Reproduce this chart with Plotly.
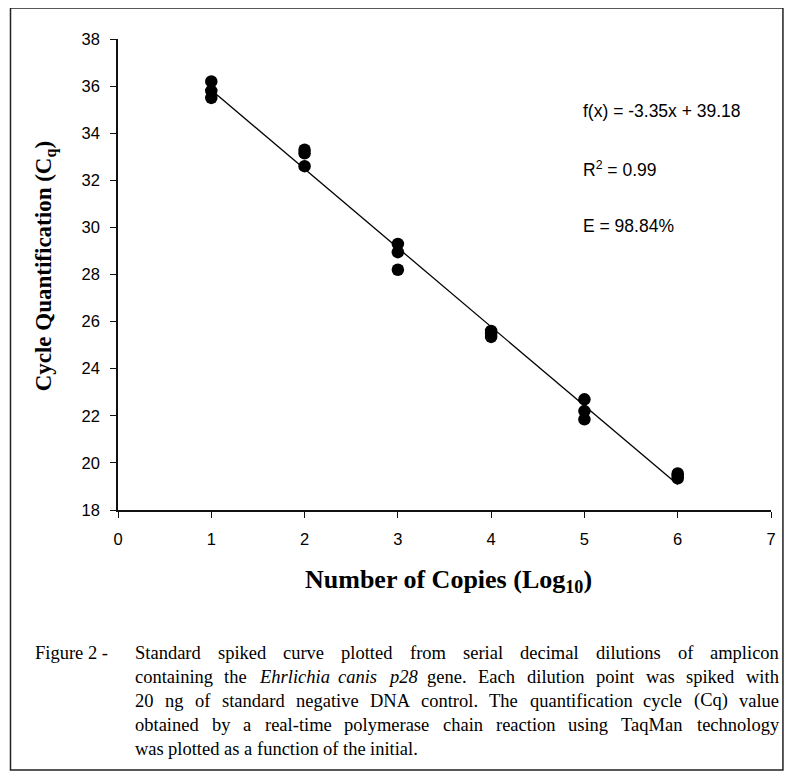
import plotly.graph_objects as go

# ---------------- data ----------------
log_copies = [1, 1, 1, 2, 2, 2, 3, 3, 3, 4, 4, 4, 5, 5, 5, 6, 6, 6]
cq_values = [36.2, 35.8, 35.5, 33.3, 33.15, 32.6, 29.3, 28.95, 28.2,
             25.6, 25.5, 25.35, 22.7, 22.2, 21.85, 19.55, 19.45, 19.35]
slope = -3.35
intercept = 39.18
fit_x = [1, 6]
x_ticks = [0, 1, 2, 3, 4, 5, 6, 7]
y_ticks = [18, 20, 22, 24, 26, 28, 30, 32, 34, 36, 38]
eq_lines = ["f(x) = -3.35x + 39.18", "R<sup>2</sup> = 0.99", "E = 98.84%"]
caption_lines = [
    "Standard spiked curve plotted from serial decimal dilutions of amplicon",
    "containing the <i>Ehrlichia</i> <i>canis</i> <i>p28</i> gene. Each dilution point was spiked with",
    "20 ng of standard negative DNA control. The quantification cycle (Cq) value",
    "obtained by a real-time polymerase chain reaction using TaqMan technology",
    "was plotted as a function of the initial.",
]

# ---------------- layout geometry (reference-window pixels) ----------------
OFF = 8  # page body margin: figure is drawn at (8, 8) in the window
W, H = 780, 766
L, R, T, B = 118 - OFF, 774 - OFF, 39 - OFF, 510 - OFF
PW, PH = R - L, B - T

SANS = "Liberation Sans, Arial"


def px(x):
    return (x - OFF - L) / PW


def py(y):
    return (B - (y - OFF)) / PH


fig = go.Figure()
fig.add_trace(go.Scatter(
    x=fit_x, y=[slope * v + intercept for v in fit_x], mode="lines",
    line=dict(color="black", width=1.3), showlegend=False, hoverinfo="skip"))
fig.add_trace(go.Scatter(
    x=log_copies, y=cq_values, mode="markers",
    marker=dict(color="black", size=12.5), showlegend=False))

axis_common = dict(showline=True, linecolor="#111", linewidth=1.5, ticks="outside",
                   ticklen=6, tickwidth=1.3, tickcolor="#111", showgrid=False,
                   zeroline=False,
                   tickfont=dict(family=SANS, size=16.5, color="black"))
fig.update_xaxes(range=[0, 7], tickvals=x_ticks, ticklabelstandoff=7, **axis_common)
fig.update_yaxes(range=[18, 38], tickvals=y_ticks, ticklabelstandoff=7, **axis_common)

anns = []
# equation text
for i, t in enumerate(eq_lines):
    anns.append(dict(x=px(583), y=py(111 + i * 57.5), xref="paper", yref="paper",
                     text=t, showarrow=False, xanchor="left", yanchor="middle",
                     font=dict(family=SANS, size=17.5, color="black")))

# axis titles
anns.append(dict(x=px(450), y=py(581), xref="paper", yref="paper",
                 text="<b>Number of Copies (Log<sub>10</sub>)</b>", showarrow=False,
                 xanchor="center", yanchor="middle",
                 font=dict(family="Liberation Serif, Times New Roman", size=26, color="black")))
anns.append(dict(x=px(45), y=py(266), xref="paper", yref="paper",
                 text="<b>Cycle Quantification (C<sub>q</sub>)</b>", showarrow=False,
                 textangle=-90, xanchor="center", yanchor="middle",
                 font=dict(family="Liberation Serif, Times New Roman", size=23, color="black")))

# caption: justified by word placement using Times advance widths
TW = {' ': 250, '.': 250, ',': 250, '-': 333, '(': 333, ')': 333, '0': 500, '1': 500,
      '2': 500, '3': 500, '4': 500, '5': 500, '6': 500, '7': 500, '8': 500, '9': 500,
      'a': 444, 'b': 500, 'c': 444, 'd': 500, 'e': 444, 'f': 333, 'g': 500, 'h': 500,
      'i': 278, 'j': 278, 'k': 500, 'l': 278, 'm': 778, 'n': 500, 'o': 500, 'p': 500,
      'q': 500, 'r': 333, 's': 389, 't': 278, 'u': 500, 'v': 500, 'w': 722, 'x': 500,
      'y': 500, 'z': 444, 'A': 722, 'B': 667, 'C': 667, 'D': 722, 'E': 611, 'F': 556,
      'G': 722, 'H': 722, 'I': 333, 'J': 389, 'K': 722, 'L': 611, 'M': 889, 'N': 722,
      'O': 722, 'P': 556, 'Q': 722, 'R': 667, 'S': 556, 'T': 611, 'U': 722, 'V': 722,
      'W': 944, 'X': 722, 'Y': 722, 'Z': 611}
CAP_FS = 18.5


def wwidth(w):
    plain = w.replace("<i>", "").replace("</i>", "")
    return sum(TW.get(c, 500) for c in plain) / 1000 * CAP_FS


cap_font = dict(family="Liberation Serif, Times New Roman", size=CAP_FS, color="black")
x_left, x_indent, x_right = 33, 133, 780
y0, dy = 653, 23.9
anns.append(dict(x=px(x_left), y=py(y0), xref="paper", yref="paper", text="Figure 2 -",
                 showarrow=False, xanchor="left", yanchor="middle", font=cap_font))
for li, line in enumerate(caption_lines):
    words = line.split(" ")
    widths = [wwidth(w) for w in words]
    last = li == len(caption_lines) - 1
    gap = CAP_FS * 0.25 if last else (x_right - x_indent - sum(widths)) / (len(words) - 1)
    xc = x_indent
    for w, wd in zip(words, widths):
        anns.append(dict(x=px(xc), y=py(y0 + li * dy), xref="paper", yref="paper", text=w,
                         showarrow=False, xanchor="left", yanchor="middle", font=cap_font))
        xc += wd + gap

shapes = [dict(type="rect", xref="paper", yref="paper", x0=px(10), x1=px(786),
               y0=py(8), y1=py(770), line=dict(color="#222", width=1.5))]

fig.update_layout(width=W, height=H, margin=dict(l=L, r=W - R, t=T, b=H - B),
                  plot_bgcolor="white", paper_bgcolor="white",
                  annotations=anns, shapes=shapes, showlegend=False)
fig.write_html("out.html")
